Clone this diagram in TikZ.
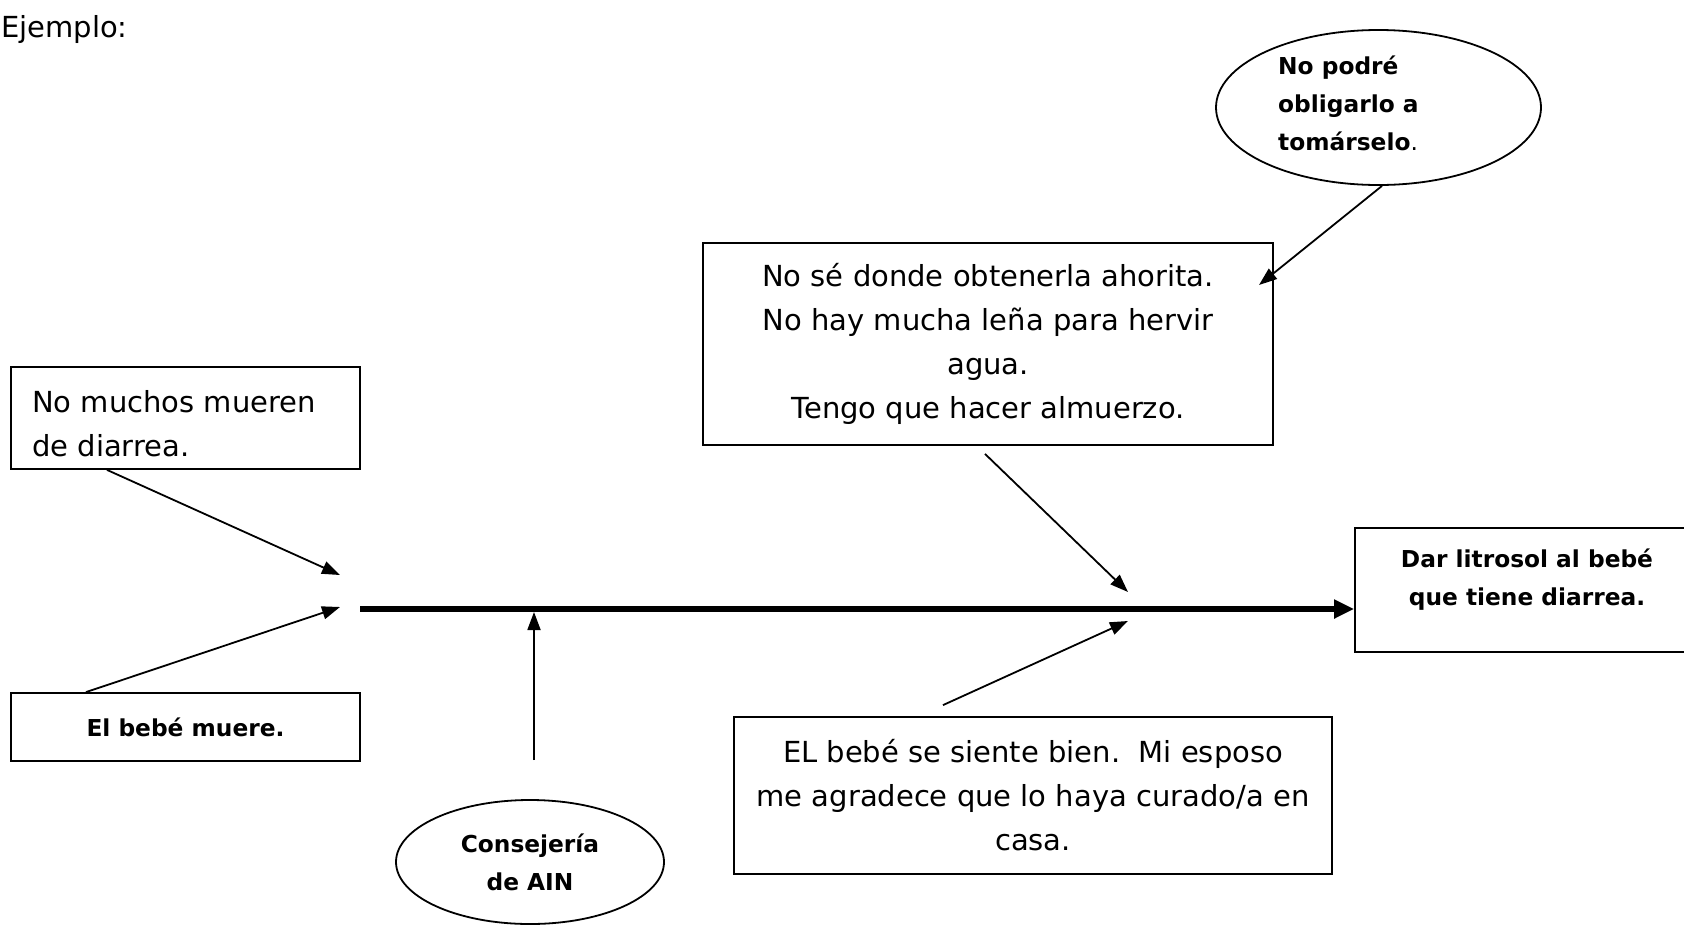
\documentclass[tikz,border=0pt]{standalone}
\usepackage{fontspec}
\setmainfont{DejaVu Sans}
\usetikzlibrary{arrows.meta,shapes.geometric}
\begin{document}
\begin{tikzpicture}[x=1pt,y=-1pt,
  box/.style={draw,line width=1.8pt,rectangle,inner sep=0pt},
  oval/.style={draw,ellipse,line width=1.8pt,inner sep=0pt},
  reg/.style={font=\fontsize{29}{44}\selectfont},
  bld/.style={font=\fontsize{23.3}{38}\selectfont\bfseries},
  arr/.style={line width=1.8pt,-{Triangle[length=18pt,width=13pt]}},
  spinearr/.style={line width=5.5pt,-{Triangle[length=20pt,width=18pt]}}]
\useasboundingbox (0,0) rectangle (1684,927);
\clip (0,0) rectangle (1684,927);
\fill[white] (0,0) rectangle (1684,927);

\node[reg,anchor=west,inner sep=0pt] (ej) at (1,29) {Ejemplo:};

% top ellipse
\node[oval,minimum width=325pt,minimum height=155pt] (e1) at (1378.5,107.5) {};
\node[bld,align=left,anchor=west,inner sep=0pt] (e1t) at (1278,103) {No podré\\obligarlo a\\tomárselo{\mdseries .}};

% box C
\node[box,reg,minimum width=570pt,minimum height=202pt,align=center] (c) at (988,344)
  {No sé donde obtenerla ahorita.\\No hay mucha leña para hervir\\agua.\\Tengo que hacer almuerzo.};

% box A
\node[box,minimum width=349pt,minimum height=102pt] (a) at (185.5,418) {};
\node[reg,align=left,anchor=west,inner sep=0pt] (at) at (32,424) {No muchos mueren\\de diarrea.};

% box B
\node[box,bld,minimum width=349pt,minimum height=68pt] (b) at (185.5,727) {El bebé muere.};

% box D (effect)
\node[box,minimum width=345pt,minimum height=124pt] (d) at (1527.5,590) {};
\node[bld,align=center,inner sep=0pt] (dt) at (1527,579.5) {Dar litrosol al bebé\\que tiene diarrea.};

% box F
\node[box,reg,minimum width=598pt,minimum height=157pt,align=center] (f) at (1033,795.5)
  {EL bebé se siente bien.\ \ Mi esposo\\me agradece que lo haya curado/a en\\casa.};

% bottom ellipse
\node[oval,bld,align=center,minimum width=268pt,minimum height=124pt] (e2) at (530,862) {Consejería\\de AIN};

% spine
\coordinate (s0) at (360,609);
\draw[spinearr] (s0) -- (d.west |- s0);

% arrow tips
\coordinate (tA) at (340,575);
\coordinate (tB) at (340,607);
\coordinate (tE) at (534,612);
\coordinate (tC) at (1128,592);
\coordinate (tF) at (1128,621);
\coordinate (t1) at (1259,285);

\draw[arr] ([xshift=-78.5pt]a.south) -- (tA);
\draw[arr] ([xshift=-99.5pt]b.north) -- (tB);
\draw[arr] ([shift={(4pt,39pt)}]e2.north) -- (tE);
\draw[arr] ([shift={(-3pt,-8pt)}]c.south) -- (tC);
\draw[arr] ([shift={(-90pt,11pt)}]f.north) -- (tF);
\draw[arr] ([xshift=3.5pt]e1.south) -- (t1);
\end{tikzpicture}
\end{document}
